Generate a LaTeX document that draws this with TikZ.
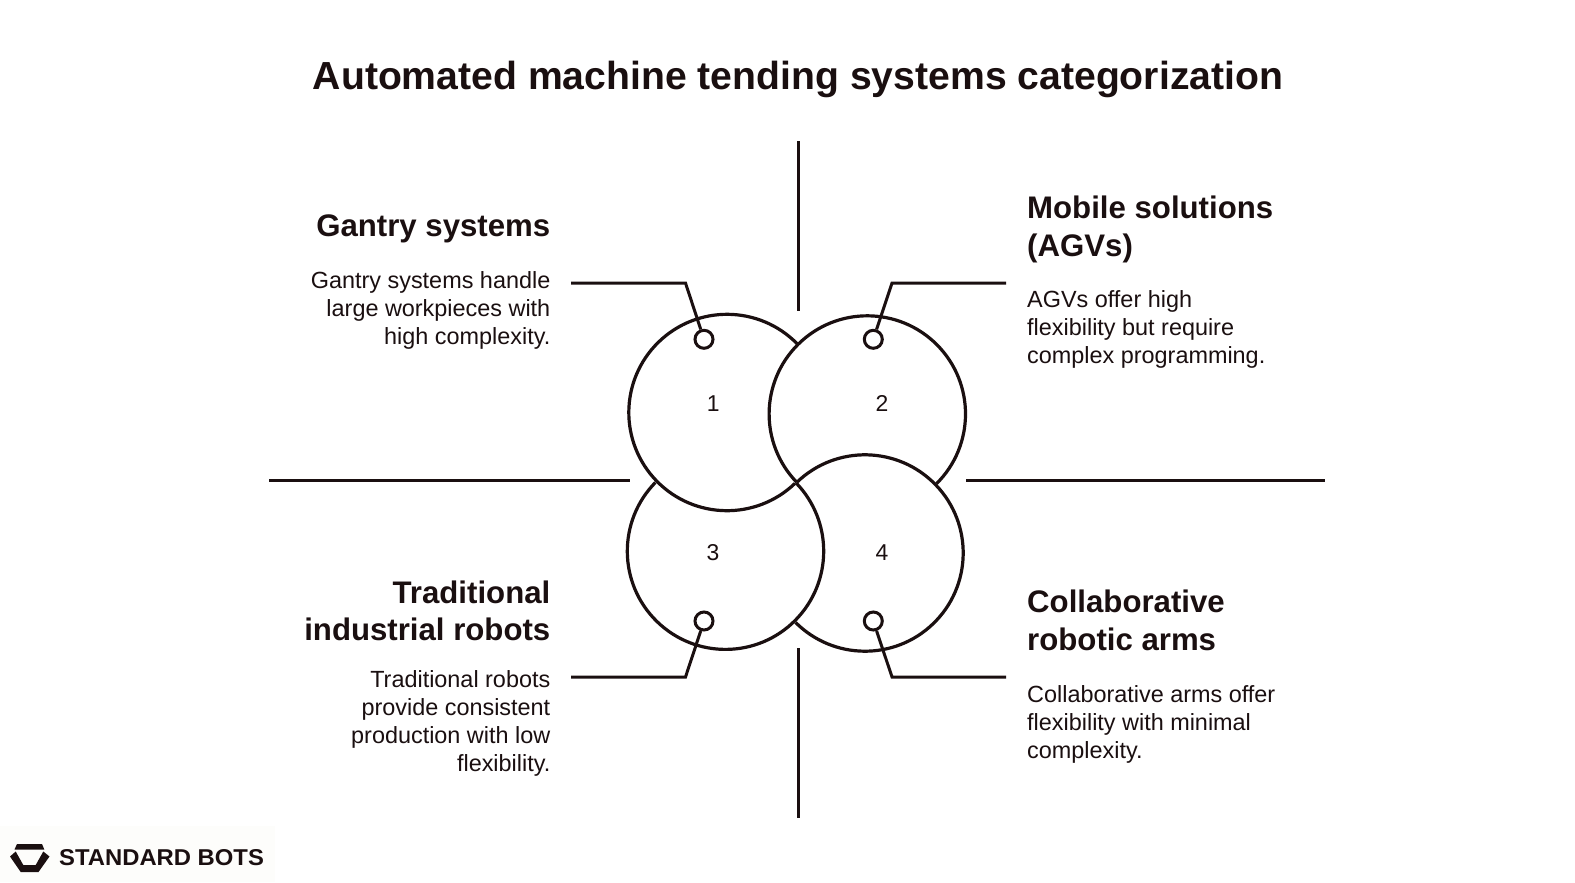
\documentclass[tikz,border=0pt]{standalone}
\usepackage{fontspec}
\setmainfont{Liberation Sans}
\newfontfamily\logofont[FakeStretch=1.04]{Liberation Sans Bold}
\definecolor{ink}{HTML}{1A0F10}
\definecolor{patch}{HTML}{FDFDFB}
\tikzset{
  x=1bp,y=-1bp,
  ring/.style={line width=3.2bp,draw=ink},
  bar/.style={line width=3bp,draw=ink},
  leader/.style={line width=3bp,draw=ink,line join=miter},
  dot/.style={circle,draw=ink,line width=3bp,minimum size=18bp,inner sep=0pt,fill=white},
  num/.style={font=\fontsize{23}{28}\selectfont,text=ink,inner sep=0pt},
  head/.style={font=\fontsize{31.3}{37.5}\bfseries\selectfont,text=ink,inner sep=0pt},
  body/.style={font=\fontsize{23.5}{28.2}\selectfont,text=ink,inner sep=0pt},
  headL/.style={head,anchor=north east,align=right},
  headR/.style={head,anchor=north west,align=left},
  bodyL/.style={body,anchor=north east,align=right},
  bodyR/.style={body,anchor=north west,align=left},
}
\begin{document}
\begin{tikzpicture}
\useasboundingbox (0,0) rectangle (1575,882);
\fill[white] (0,0) rectangle (1575,882);
\fill[patch] (0,826) rectangle (275,882);
\node[font=\fontsize{39.3}{46}\bfseries\selectfont,text=ink,inner sep=0pt] (title) at (798,79.5) {Automated machine tending systems categorization};

% axes
\coordinate (vt1) at (798,141); \coordinate (vt2) at (798,311);
\coordinate (vb1) at (798,648); \coordinate (vb2) at (798,818);
\coordinate (hl1) at (269,480); \coordinate (hl2) at (630,480);
\coordinate (hr1) at (966,480); \coordinate (hr2) at (1325,480);
\draw[bar] (vt1)--(vt2);
\draw[bar] (vb1)--(vb2);
\draw[bar] (hl1)--(hl2);
\draw[bar] (hr1)--(hr2);

% pinwheel circles
\def\rr{98.2}
\coordinate (c1) at (727,412.5);
\coordinate (c2) at (867.3,414);
\coordinate (c3) at (725.5,551.2);
\coordinate (c4) at (865,553);
\draw[ring] ([shift={(44.4:\rr bp)}]c1) arc[start angle=-44.4,end angle=-313.8,radius=\rr];
\draw[ring] ([shift={(-45.2:\rr bp)}]c2) arc[start angle=45.2,end angle=-224,radius=\rr];
\draw[ring] ([shift={(135.6:\rr bp)}]c3) arc[start angle=-135.6,end angle=-404.1,radius=\rr];
\draw[ring] ([shift={(133.8:\rr bp)}]c4) arc[start angle=-133.8,end angle=135,radius=\rr];

% numbers
\node[num] (n1) at (713.3,403.3) {1};
\node[num] (n2) at (882,403) {2};
\node[num] (n3) at (713,552.5) {3};
\node[num] (n4) at (882,552.5) {4};

% dots
\node[dot] (d1) at (704,339.3) {};
\node[dot] (d2) at (873.3,339.3) {};
\node[dot] (d3) at (704,621) {};
\node[dot] (d4) at (873.3,621) {};

% leaders
\coordinate (l1a) at (571,283); \coordinate (l1b) at (685.5,283);
\coordinate (l2a) at (1006,283); \coordinate (l2b) at (892,283);
\coordinate (l3a) at (571,677); \coordinate (l3b) at (685.5,677);
\coordinate (l4a) at (1006,677); \coordinate (l4b) at (892,677);
\draw[leader] (l1a)--(l1b)--(d1);
\draw[leader] (l2a)--(l2b)--(d2);
\draw[leader] (l3a)--(l3b)--(d3);
\draw[leader] (l4a)--(l4b)--(d4);

% text
\node[headL] (t1) at (550.5,215) {Gantry systems};
\node[bodyL] (b1) at (550.5,271.5) {Gantry systems handle\\large workpieces with\\high complexity.};
\node[headR] (t2) at (1027,196) {Mobile solutions\\(AGVs)};
\node[bodyR] (b2) at (1027,290.5) {AGVs offer high\\flexibility but require\\complex programming.};
\node[headL] (t3) at (550.5,580.5) {Traditional\\industrial robots};
\node[bodyL] (b3) at (550.5,670.5) {Traditional robots\\provide consistent\\production with low\\flexibility.};
\node[headR] (t4) at (1027,590) {Collaborative\\robotic arms};
\node[bodyR] (b4) at (1027,685) {Collaborative arms offer\\flexibility with minimal\\complexity.};

% logo
\fill[ink] (17,844) -- (42,844) -- (44.3,849.5) -- (14.5,849.5) -- cycle;
\fill[ink] (10,856.5) -- (15.7,851.5) -- (23.3,865) -- (35.7,865) -- (43.3,851.5) -- (49.5,856.5) -- (38.5,872) -- (20.7,872) -- cycle;
\node[font=\logofont\fontsize{23}{28}\selectfont,text=ink,inner sep=0pt,anchor=west] (logo) at (59,857.5) {STANDARD BOTS};
\end{tikzpicture}
\end{document}
